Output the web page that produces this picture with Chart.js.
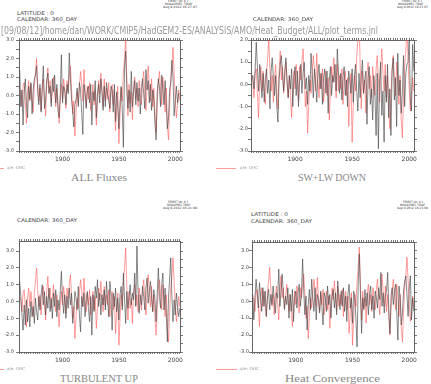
<!DOCTYPE html>
<html>
<head>
<meta charset="utf-8">
<script src="https://cdn.jsdelivr.net/npm/chart.js@4.4.0/dist/chart.umd.min.js"></script>
<style>
  body { margin: 0; background: #fff; }
  #page { position: relative; width: 431px; height: 384px; overflow: hidden; background: #fff; }
  canvas { position: absolute; }
  .txt { position: absolute; white-space: nowrap; transform-origin: 0 0; line-height: 1; }
  .leg { position: absolute; height: 0; border-top: 1px solid #ff9a9a; }
</style>
</head>
<body>
<div id="page">
  <canvas id="c1" width="200" height="140" style="left:0px;top:30px"></canvas>
  <canvas id="c2" width="216" height="140" style="left:215px;top:30px"></canvas>
  <canvas id="c3" width="200" height="140" style="left:0px;top:231px"></canvas>
  <canvas id="c4" width="216" height="140" style="left:215px;top:232px"></canvas>
</div>
<script>
// annual values 1862-2004
const years = [];
for (let y = 1862; y <= 2004; y++) years.push(y);

// red line, the same in all four panels
const ohc = [
  0.3, 0.1, -0.6, 0.5, 0.7, -0.4, -1.5, 0.2, 0.8, -0.3,
  0.6, -0.2, -0.9, 0.5, 1.2, 2.0, 0.7, -0.3, 0.4, -0.8,
  0.3, 0.9, -0.2, -1.1, 0.6, 1.5, 0.2, 0.8, -0.4, 0.3,
  1.0, 0.1, -0.6, 0.4, -0.5, -1.5, -0.3, 0.6, -0.2, 0.9,
  0.3, -0.7, 0.8, 0.2, 1.0, 1.6, 0.4, -1.0, -0.3, -2.2,
  -0.9, 0.2, -0.4, 0.5, 1.3, 0.7, -0.3, 1.4, 0.2, -0.6,
  0.5, -0.2, 0.7, -0.8, -0.1, 0.6, -0.5, 0.3, -1.6, -0.4,
  0.8, 0.1, 1.2, 0.3, -0.6, 0.9, -0.3, 0.4, -0.2, 0.7,
  -0.9, 0.2, 0.6, -0.5, 0.3, -1.9, -0.7, 0.5, -2.6, -1.0,
  0.4, -0.3, 1.2, 2.0, 3.2, 1.0, -1.1, 0.6, -0.4, 0.2,
  -1.3, 0.5, 1.0, -0.2, 0.4, -0.6, 0.8, 0.1, -0.5, 0.7,
  1.3, 0.2, -0.8, 0.6, 1.6, 0.5, -0.3, 0.9, -0.6, 0.4,
  -1.0, -2.0, -0.4, 0.7, 1.3, 0.3, -0.5, 1.0, 0.2, -0.9,
  0.4, -1.6, -2.4, -0.6, 0.8, 1.5, 2.6, 1.2, -0.2, -1.2,
  -0.5, 0.3, -0.3
];

// black lines, one per panel
const allFluxes = [
  1.4, -0.6, 0.3, -1.6, 0.2, 0.9, -0.4, -1.2, 0.5, -0.2,
  0.7, -1.0, 0.3, 0.9, 1.1, 1.6, 0.2, -0.5, 0.6, -0.9,
  0.4, 1.6, -0.7, -0.3, 0.8, 1.2, 0.1, 0.5, -0.6, 0.9,
  0.2, 1.1, -0.4, 0.6, -0.8, -1.2, 0.1, 2.2, -0.4, 0.5,
  0.3, -0.5, 0.6, 0.1, 2.3, 0.9, -0.2, -0.8, -1.7, -0.5,
  -0.2, 0.4, -0.6, 0.7, 0.3, -0.9, -2.1, 0.6, 0.1, -0.7,
  0.3, 0.5, -0.4, 0.6, -1.6, 0.2, -0.3, 0.8, -1.2, 0.1,
  0.6, -0.4, 0.9, 0.2, -0.8, 0.5, -0.6, 0.7, 0.1, -0.3,
  -0.7, 0.5, 0.3, -0.9, 0.6, -1.4, 0.2, -0.6, -1.8, -0.4,
  0.5, -0.8, -2.8, 1.5, 2.4, 0.4, -0.7, 0.3, -0.9, 1.3,
  -0.6, 0.2, 0.8, -0.5, 0.7, -0.3, 0.4, -1.0, 0.5, 0.9,
  0.1, -0.7, 1.4, 0.3, 0.8, -0.4, 0.6, -0.8, 0.3, -0.2,
  -1.5, -2.4, 0.2, 0.9, 0.4, -0.6, 1.1, 0.3, -0.5, 0.8,
  -0.4, -1.8, -1.2, 0.3, 0.7, 1.9, 1.0, -1.1, -0.3, 0.5,
  -0.4, 0.1, 0.1
];

const swlwDown = [
  0.2, 0.4, -0.2, 0.6, 1.9, 0.8, -0.3, 0.9, 0.1, -0.6,
  0.5, -0.8, 0.3, 0.7, -0.4, 0.2, -1.1, 0.6, 1.2, 0.3,
  -0.5, 0.4, -1.0, -1.7, 0.2, 0.9, 1.3, 0.5, -0.3, 0.6,
  1.2, 0.1, -0.6, 0.4, -0.2, 0.7, -1.0, 0.3, 0.8, -0.5,
  0.6, -1.0, 0.2, 0.9, -0.4, 0.5, 1.0, -0.2, 0.3, -0.9,
  0.4, -0.3, 1.4, 0.5, -0.6, 0.7, 0.1, -0.8, 0.4, 0.9,
  -0.2, 0.5, -0.9, 0.3, 0.7, -0.4, 0.6, -1.3, 0.2, 0.8,
  -0.5, 0.4, 0.1, 0.9, -0.3, 1.6, 0.6, -0.4, 0.5, -0.7,
  0.3, 0.8, -0.5, 0.2, -1.0, 0.6, 0.1, -0.4, 0.7, -0.8,
  0.4, 0.9, -0.3, -1.2, 0.5, -0.6, 0.3, 1.1, -0.4, 0.2,
  0.6, -1.8, 0.3, 0.8, -0.9, -0.2, -1.6, 0.4, -0.5, -2.3,
  0.5, -2.9, 0.2, 1.0, -1.4, -0.3, -2.6, 0.4, -0.8, 0.9,
  -1.5, -0.2, -2.3, 0.6, 1.2, -0.7, 0.3, -1.9, 1.4, -0.5,
  0.2, -1.3, -0.4, 1.3, -1.0, 0.5, 0.9, 1.0, 2.0, -0.6,
  -1.2, 1.8, 0.6
];

const turbulentUp = [
  1.2, 0.3, -0.8, -1.7, -0.2, -1.4, 0.1, -1.2, -0.4, -1.5,
  0.0, -0.9, -0.3, -1.3, 0.2, -0.6, -1.1, 0.3, -0.5, 0.4,
  1.0, -0.2, 0.6, -0.8, 0.3, -0.4, 0.8, -0.6, 0.2, -1.0,
  0.5, -0.3, 0.7, -0.9, 0.1, -0.5, 0.6, 1.8, 0.2, -0.7,
  0.4, -1.0, 0.3, -0.4, 0.8, -0.2, 0.5, -1.3, -0.6, 0.6,
  0.2, -0.5, 0.9, -0.8, -1.8, 0.3, -0.3, 0.5, -0.9, 0.1,
  0.6, -0.4, -1.2, 0.3, -2.0, 0.4, -0.6, 0.9, 0.2, 1.3,
  -0.3, 0.5, -0.8, 0.4, -0.2, 0.7, -0.5, 1.2, 0.1, -0.9,
  1.2, 0.3, -1.7, 0.5, -0.3, 0.8, -0.6, 0.2, -1.1, 0.4,
  0.9, -0.5, 1.7, 0.2, -1.3, 0.6, -0.4, 0.3, 1.0, -0.2,
  0.5, 0.1, 1.7, -0.3, 3.3, 0.6, -0.7, 0.4, -0.2, 0.9,
  0.3, -0.5, 0.8, 1.4, -0.1, 0.6, 1.2, 0.2, -0.6, 0.7,
  0.1, -1.2, 0.5, 2.0, 0.3, -0.4, 1.0, 1.7, -0.5, 0.8,
  -0.7, -2.4, 0.2, 1.4, 2.6, 0.3, -1.2, 0.1, -0.8, 0.5,
  -0.3, -0.9, -0.4
];

const heatConv = [
  0.4, -1.1, 0.2, 1.3, 0.5, -0.4, 1.1, 0.3, -0.6, 0.8,
  -0.3, 0.6, -0.9, 0.2, 0.7, -0.5, 0.4, -0.2, 0.9, 0.1,
  -0.7, 0.5, 0.2, 1.9, -0.3, 0.6, 1.6, 0.4, -0.5, 0.3,
  -0.2, 0.8, -1.0, 0.4, -0.6, 0.7, -1.2, 0.2, 0.6, -0.4,
  0.5, 1.0, -0.3, 0.4, 2.5, 0.6, -0.8, 0.3, -1.7, -0.2,
  0.7, -0.5, 1.3, 0.2, -0.6, 0.8, -1.1, 0.4, 0.1, -0.7,
  0.6, -0.3, -1.4, 0.5, 0.2, -0.6, 0.9, -0.2, 0.4, -1.0,
  0.3, 0.7, -0.4, 0.5, -0.8, 1.2, 0.2, -0.5, 0.6, -0.3,
  0.8, -0.6, 0.3, -1.2, 0.5, 1.0, -0.4, 0.2, -1.3, 0.6,
  0.3, -1.0, -2.7, 0.9, 2.8, 0.4, -1.9, 0.2, -0.5, 0.7,
  -0.3, 0.5, -0.8, 0.4, 0.9, -0.5, 0.3, -1.0, 0.6, 0.2,
  -0.4, 0.8, 0.1, 1.7, -0.3, 0.5, -0.7, 0.3, 0.6, 1.7,
  -0.5, -1.9, 0.4, 0.8, -0.2, 0.6, 1.0, -0.6, -2.3, 0.9,
  0.2, -1.4, -0.7, 0.6, 1.2, 1.5, 0.4, -0.9, 0.7, 1.5,
  -1.1, 0.2, -0.6
];

const xLabelYears = [1900, 1950, 2000];
const xMin = 1861.4, xMax = 2004.2;

function toPoints(vals) {
  return vals.map((v, i) => ({ x: years[i], y: v }));
}

// build one ferret style panel; box = canvas position, area = plot frame in page px
function makePanel(id, box, area, yMin, yMax, fluxVals, labelGap) {
  const fixed = {
    left: area.l - box.l,
    right: box.l + box.w - area.r,
    top: area.t - box.t,
    bottom: box.t + box.h - area.b
  };
  const yTicks = [];
  for (let v = yMin; v <= yMax + 1e-6; v += 0.5) yTicks.push(Math.round(v * 10) / 10);
  const xTicks = [];
  for (let y = 1862; y <= 2004; y += 2) xTicks.push(y);

  const axisCommon = {
    border: { display: true, color: "#666", width: 1 },
    grid: { drawOnChartArea: false, drawTicks: true, color: "#777", tickLength: 2 }
  };

  new Chart(document.getElementById(id), {
    type: "line",
    data: {
      datasets: [
        {
          data: toPoints(fluxVals),
          borderColor: "rgba(70,70,70,0.8)",
          borderWidth: 0.8,
          pointRadius: 0,
          tension: 0
        },
        {
          data: toPoints(ohc),
          borderColor: "rgba(255,80,80,0.7)",
          borderWidth: 0.8,
          pointRadius: 0,
          tension: 0
        }
      ]
    },
    options: {
      responsive: false,
      animation: false,
      devicePixelRatio: 1,
      layout: { padding: 0 },
      plugins: { legend: { display: false }, tooltip: { enabled: false } },
      scales: {
        x: {
          ...axisCommon,
          type: "linear",
          position: "bottom",
          min: xMin,
          max: xMax,
          afterBuildTicks: (s) => { s.ticks = xTicks.map((v) => ({ value: v })); },
          afterFit: (s) => { s.height = fixed.bottom; },
          ticks: {
            autoSkip: false,
            maxRotation: 0,
            padding: 3,
            color: "#444",
            font: { family: "DejaVu Sans", size: 6 },
            callback: (v) => (xLabelYears.includes(v) ? String(v) : "")
          }
        },
        xTop: {
          ...axisCommon,
          type: "linear",
          position: "top",
          min: xMin,
          max: xMax,
          afterBuildTicks: (s) => { s.ticks = xTicks.map((v) => ({ value: v })); },
          afterFit: (s) => { s.height = fixed.top; },
          ticks: { display: false }
        },
        y: {
          ...axisCommon,
          position: "left",
          min: yMin,
          max: yMax,
          grid: { drawOnChartArea: false, drawTicks: true, color: "#777", tickLength: 3 },
          afterBuildTicks: (s) => { s.ticks = yTicks.map((v) => ({ value: v })); },
          afterFit: (s) => { s.width = fixed.left; },
          ticks: {
            padding: labelGap,
            color: "#444",
            font: { family: "DejaVu Sans", size: 5 },
            callback: (v) => (Math.abs(v % 1) < 1e-6 ? v.toFixed(1) : "")
          }
        },
        yRight: {
          ...axisCommon,
          position: "right",
          min: yMin,
          max: yMax,
          grid: { drawOnChartArea: false, drawTicks: true, color: "#777", tickLength: 3 },
          afterBuildTicks: (s) => { s.ticks = yTicks.map((v) => ({ value: v })); },
          afterFit: (s) => { s.width = fixed.right; },
          ticks: { display: false }
        }
      }
    }
  });
}

makePanel("c1", { l: 0, t: 30, w: 200, h: 140 }, { l: 19, r: 180, t: 40, b: 151 }, -3, 3, allFluxes, 2);
makePanel("c2", { l: 215, t: 30, w: 216, h: 140 }, { l: 251, r: 414, t: 40, b: 151 }, -3, 2, swlwDown, 0);
makePanel("c3", { l: 0, t: 231, w: 200, h: 140 }, { l: 19, r: 180, t: 241, b: 352 }, -3, 3.6, turbulentUp, 2);
makePanel("c4", { l: 215, t: 232, w: 216, h: 140 }, { l: 252, r: 414, t: 242, b: 352 }, -3, 3.5, heatConv, 0);

// texts: x = left edge (or centre when c is set), y = vertical centre, w = target width
const texts = [
  { t: "FERRET Ver. 6.1", x: 168, y: 1.5, w: 20, s: 3, col: "#333" },
  { t: "NOAA/PMEL TMAP", x: 165, y: 4.5, w: 27, s: 3, col: "#333" },
  { t: "Aug  9 2012 16:27:07", x: 163, y: 7.5, w: 34, s: 3, col: "#333" },
  { t: "FERRET Ver. 6.1", x: 402, y: 1.5, w: 20, s: 3, col: "#333" },
  { t: "NOAA/PMEL TMAP", x: 398, y: 4.5, w: 25, s: 3, col: "#333" },
  { t: "Aug  9 2012 16:27:07", x: 397, y: 7.5, w: 31, s: 3, col: "#333" },
  { t: "FERRET Ver. 6.1", x: 168, y: 202.5, w: 20, s: 3, col: "#333" },
  { t: "NOAA/PMEL TMAP", x: 167, y: 205.5, w: 23, s: 3, col: "#333" },
  { t: "Aug  9 2012 16:21:08", x: 163, y: 208.5, w: 34, s: 3, col: "#333" },
  { t: "FERRET Ver. 6.1", x: 403, y: 202.5, w: 20, s: 3, col: "#333" },
  { t: "NOAA/PMEL TMAP", x: 400, y: 205.5, w: 25, s: 3, col: "#333" },
  { t: "Aug  9 2012 16:21:08", x: 397, y: 208.5, w: 31, s: 3, col: "#333" },

  { t: "LATITUDE : 0", x: 17, y: 13, w: 37, s: 5, col: "#444" },
  { t: "CALENDAR: 360_DAY", x: 17, y: 19.5, w: 60, s: 5, col: "#444" },
  { t: "[09/08/12]/home/dan/WORK/CMIP5/HadGEM2-ES/ANALYSIS/AMO/Heat_Budget/ALL/plot_terms.jnl", x: 1, y: 31, w: 377, s: 10, col: "#999" },
  { t: "CALENDAR: 360_DAY", x: 253, y: 19.5, w: 60, s: 5, col: "#444" },
  { t: "CALENDAR: 360_DAY", x: 17, y: 220.5, w: 60, s: 5, col: "#444" },
  { t: "LATITUDE : 0", x: 251, y: 214, w: 37, s: 5, col: "#444" },
  { t: "CALENDAR: 360_DAY", x: 251, y: 221, w: 61, s: 5, col: "#444" },

  { t: "ALL Fluxes", c: 99, y: 177, w: 56, s: 11, col: "#888", serif: true },
  { t: "SW+LW DOWN", c: 332, y: 177, w: 68, s: 11, col: "#888", serif: true },
  { t: "TURBULENT UP", c: 99, y: 378, w: 78, s: 11, col: "#888", serif: true },
  { t: "Heat Convergence", c: 332, y: 378, w: 95, s: 11, col: "#888", serif: true },

  { t: "a/e: OHC", x: 7, y: 168, w: 18, s: 4, col: "#999" },
  { t: "a/e: OHC", x: 240, y: 168, w: 18, s: 4, col: "#999" },
  { t: "a/e: OHC", x: 7, y: 369, w: 18, s: 4, col: "#999" },
  { t: "a/e: OHC", x: 240, y: 369, w: 19, s: 4, col: "#999" }
];

const page = document.getElementById("page");
texts.forEach((d) => {
  const el = document.createElement("div");
  el.className = "txt";
  el.textContent = d.t;
  el.style.fontFamily = d.serif ? "'Liberation Serif', serif" : "'DejaVu Sans', sans-serif";
  el.style.fontSize = d.s + "px";
  el.style.color = d.col;
  page.appendChild(el);
  const natural = el.getBoundingClientRect().width;
  const k = d.w / natural;
  const left = d.c !== undefined ? d.c - d.w / 2 : d.x;
  el.style.left = left + "px";
  el.style.top = d.y - d.s / 2 + "px";
  el.style.transform = "scaleX(" + k + ")";
});

// legend line samples
[
  { x1: 0, x2: 4, y: 168 },
  { x1: 216, x2: 236, y: 168 },
  { x1: 0, x2: 4, y: 369 },
  { x1: 216, x2: 237, y: 369 }
].forEach((l) => {
  const el = document.createElement("div");
  el.className = "leg";
  el.style.left = l.x1 + "px";
  el.style.width = l.x2 - l.x1 + "px";
  el.style.top = l.y + "px";
  page.appendChild(el);
});
</script>
</body>
</html>
